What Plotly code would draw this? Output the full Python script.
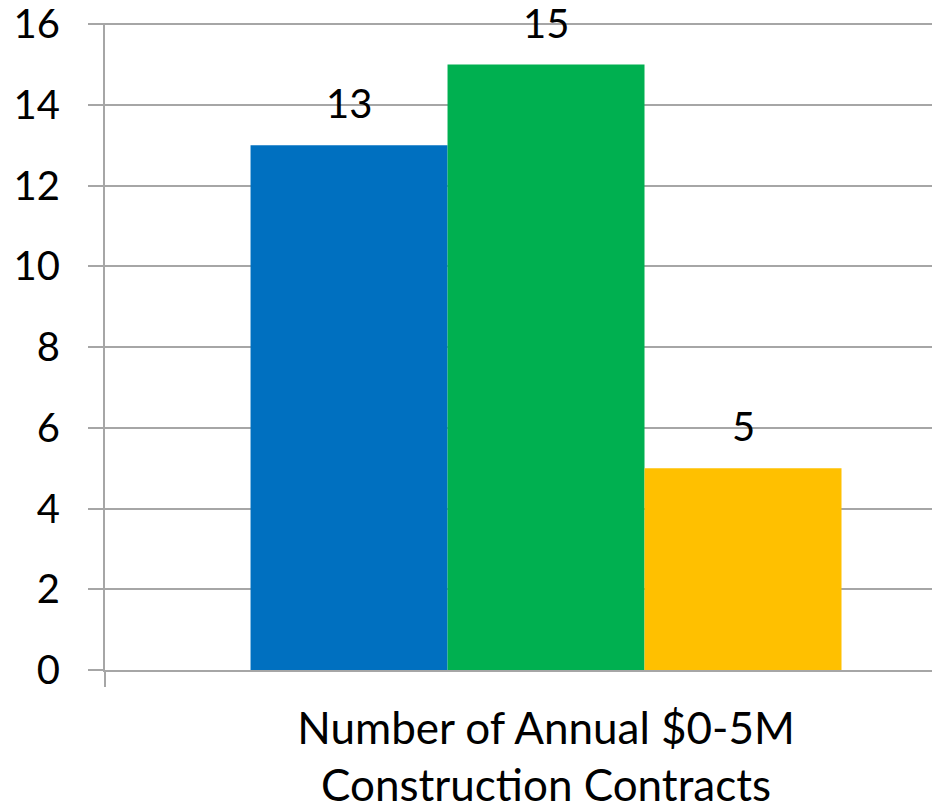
import plotly.graph_objects as go

category = ["Number of Annual $0-5M<br>Construction Contracts"]
series_names = ["Series A", "Series B", "Series C"]
series_values = [13, 15, 5]
series_colors = ["#0070C0", "#00B050", "#FFC000"]
y_ticks = [0, 2, 4, 6, 8, 10, 12, 14, 16]

FONT = "Lato, 'Open Sans', sans-serif"
GRID = "#A6A6A6"
bargap = 0.33

fig = go.Figure()
for name, v, c in zip(series_names, series_values, series_colors):
    fig.add_trace(go.Bar(x=category, y=[v], name=name, marker=dict(color=c, line=dict(width=0))))

n = len(series_values)
w = (1 - bargap) / n
for i, v in enumerate(series_values):
    fig.add_annotation(x=(i - (n - 1) / 2) * w, y=v, xref="x", yref="y", text=str(v),
                       showarrow=False, yanchor="bottom", yshift=16,
                       font=dict(family=FONT, size=40, color="black"))

fig.update_layout(
    width=932, height=808,
    margin=dict(l=105, r=0, t=23, b=138),
    barmode="group", bargap=bargap, bargroupgap=0,
    showlegend=False,
    plot_bgcolor="white", paper_bgcolor="white",
    font=dict(family=FONT, color="black"),
)
fig.update_xaxes(range=[-0.5, 0.4376], showline=True, linecolor=GRID, linewidth=2,
                 ticks="outside", tickson="boundaries", ticklen=15, tickcolor=GRID, tickwidth=2,
                 tickfont=dict(family=FONT, size=44, color="black"), showgrid=False,
                 ticklabelstandoff=19, automargin=False)
fig.update_yaxes(range=[0, 16.03], tickvals=y_ticks, showgrid=True, gridcolor=GRID, gridwidth=2,
                 showline=True, linecolor=GRID, linewidth=2, zeroline=False,
                 ticks="outside", ticklen=15, tickcolor=GRID, tickwidth=2,
                 tickfont=dict(family=FONT, size=40, color="black"), ticklabelstandoff=20,
                 automargin=False, ticklabeloverflow="allow")

fig.write_html("out.html", config={"displayModeBar": False},
               post_script="document.body.style.margin='0';document.body.style.overflow='hidden';")
